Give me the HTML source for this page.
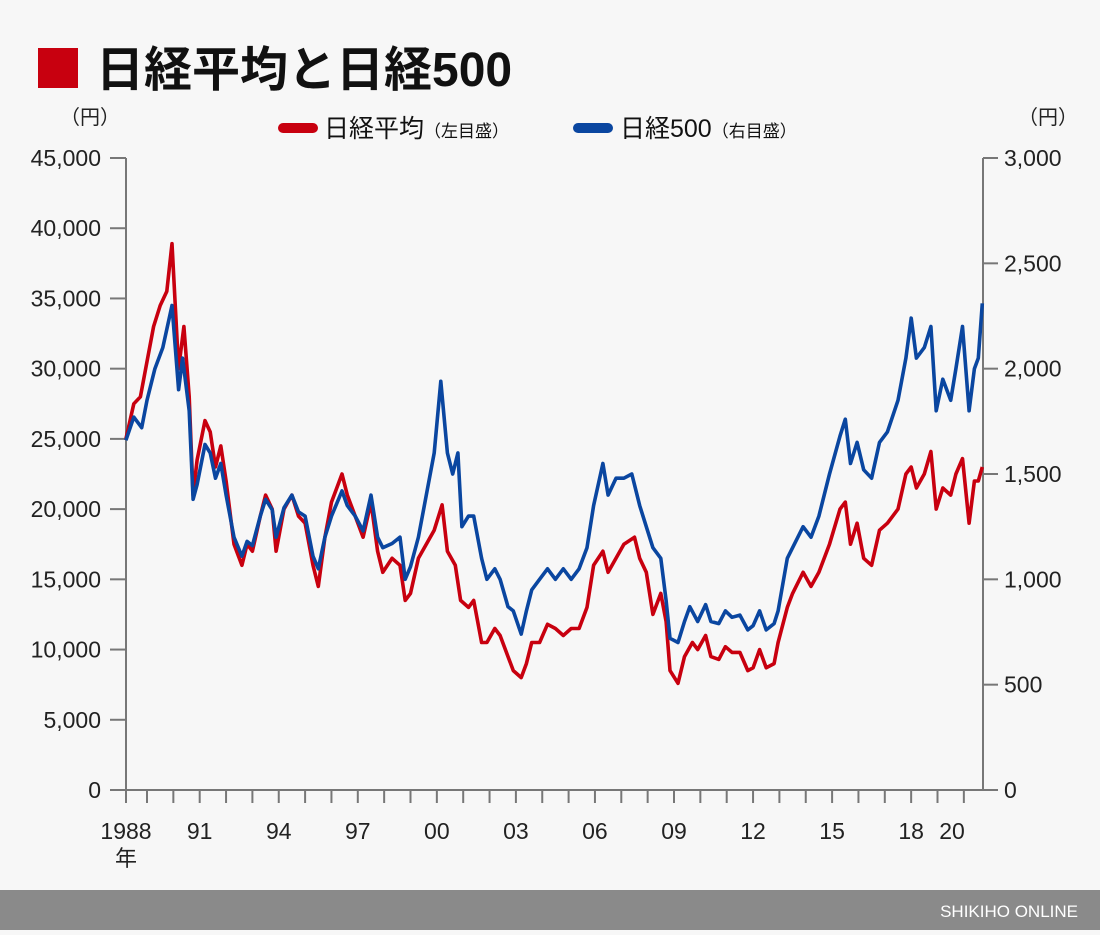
<!DOCTYPE html>
<html><head><meta charset="utf-8"><style>
body{margin:0;background:#f7f7f7;font-family:"Liberation Sans","Noto Sans CJK JP",sans-serif;}
#wrap{position:relative;width:1100px;height:935px;background:#f7f7f7;overflow:hidden}
</style></head><body>
<div id="wrap">
<svg id="svg" width="1100" height="935" style="position:absolute;left:0;top:0">
<rect x="38" y="48" width="40" height="40" fill="#c8000f"/>
<text x="96" y="86" font-size="48" font-weight="bold" fill="#111" font-family="Liberation Sans,Noto Sans CJK JP,sans-serif">日経平均と日経500</text>
<text x="60" y="124" font-size="20" fill="#222" font-family="Liberation Sans,Noto Sans CJK JP,sans-serif">（円）</text>
<text x="1018" y="124" font-size="20" fill="#222" font-family="Liberation Sans,Noto Sans CJK JP,sans-serif">（円）</text>
<g>
<line x1="283" y1="128" x2="313" y2="128" stroke="#c8000f" stroke-width="10" stroke-linecap="round"/>
<text x="324" y="137" font-size="25" fill="#111" font-family="Liberation Sans,Noto Sans CJK JP,sans-serif">日経平均<tspan font-size="17">（左目盛）</tspan></text>
</g>
<g>
<line x1="578" y1="128" x2="608" y2="128" stroke="#0a46a0" stroke-width="10" stroke-linecap="round"/>
<text x="620" y="137" font-size="25" fill="#111" font-family="Liberation Sans,Noto Sans CJK JP,sans-serif">日経500<tspan font-size="17">（右目盛）</tspan></text>
</g>
<g id="axes"></g>
<g id="series"></g>
<rect x="0" y="890" width="1100" height="40" fill="#8a8a8a"/>
<text x="1078" y="917" text-anchor="end" font-size="17" fill="#fff" font-family="Liberation Sans,sans-serif">SHIKIHO ONLINE</text>
</svg>
</div>
<script>
const nikkeiT=[1988.2,1988.5,1988.75,1989.0,1989.25,1989.5,1989.75,1989.95,1990.2,1990.4,1990.6,1990.75,1990.9,1991.2,1991.4,1991.6,1991.8,1992.0,1992.3,1992.6,1992.8,1993.0,1993.3,1993.5,1993.75,1993.9,1994.2,1994.5,1994.75,1995.0,1995.3,1995.5,1995.75,1996.0,1996.4,1996.6,1996.9,1997.2,1997.5,1997.75,1997.95,1998.3,1998.6,1998.8,1999.0,1999.3,1999.6,1999.9,2000.2,2000.4,2000.7,2000.9,2001.2,2001.4,2001.7,2001.9,2002.2,2002.4,2002.7,2002.9,2003.2,2003.4,2003.6,2003.9,2004.2,2004.5,2004.8,2005.1,2005.4,2005.7,2005.95,2006.3,2006.5,2006.8,2007.1,2007.5,2007.7,2007.95,2008.2,2008.5,2008.7,2008.85,2009.15,2009.4,2009.7,2009.9,2010.2,2010.4,2010.7,2010.95,2011.2,2011.5,2011.8,2012.0,2012.25,2012.5,2012.8,2012.95,2013.3,2013.5,2013.9,2014.2,2014.5,2014.9,2015.3,2015.5,2015.7,2015.95,2016.2,2016.5,2016.8,2017.1,2017.5,2017.8,2018.0,2018.2,2018.5,2018.75,2018.95,2019.2,2019.5,2019.7,2019.95,2020.2,2020.4,2020.55,2020.7];
const nikkeiV=[25000,27500,28000,30500,33000,34500,35500,38900,30000,33000,28000,21000,23500,26300,25500,23000,24500,22000,17500,16000,17500,17000,19500,21000,20000,17000,20000,21000,19500,19000,16000,14500,18000,20500,22500,21000,19500,18000,20500,17000,15500,16500,16000,13500,14000,16500,17500,18500,20300,17000,16000,13500,13000,13500,10500,10500,11500,11000,9500,8500,8000,9000,10500,10500,11800,11500,11000,11500,11500,13000,16000,17000,15500,16500,17500,18000,16500,15500,12500,14000,12000,8500,7600,9500,10500,10000,11000,9500,9300,10200,9800,9800,8500,8700,10000,8700,9000,10500,13000,14000,15500,14500,15500,17500,20000,20500,17500,19000,16500,16000,18500,19000,20000,22500,23000,21500,22500,24100,20000,21500,21000,22500,23600,19000,22000,22000,23000];
const n500T=[1988.2,1988.5,1988.8,1989.0,1989.3,1989.6,1989.95,1990.2,1990.35,1990.6,1990.75,1990.9,1991.2,1991.4,1991.6,1991.8,1992.0,1992.3,1992.6,1992.8,1993.0,1993.3,1993.5,1993.75,1993.9,1994.2,1994.5,1994.75,1995.0,1995.3,1995.5,1995.75,1996.0,1996.4,1996.6,1996.9,1997.2,1997.5,1997.75,1997.95,1998.3,1998.6,1998.8,1999.0,1999.3,1999.6,1999.9,2000.15,2000.4,2000.6,2000.8,2000.95,2001.2,2001.4,2001.7,2001.9,2002.2,2002.4,2002.7,2002.9,2003.2,2003.4,2003.6,2003.9,2004.2,2004.5,2004.8,2005.1,2005.4,2005.7,2005.95,2006.3,2006.5,2006.8,2007.1,2007.4,2007.7,2007.95,2008.2,2008.5,2008.7,2008.85,2009.15,2009.4,2009.6,2009.9,2010.2,2010.4,2010.7,2010.95,2011.2,2011.5,2011.8,2012.0,2012.25,2012.5,2012.8,2012.95,2013.3,2013.5,2013.9,2014.2,2014.5,2014.9,2015.3,2015.5,2015.7,2015.95,2016.2,2016.5,2016.8,2017.1,2017.5,2017.8,2018.0,2018.2,2018.5,2018.75,2018.95,2019.2,2019.5,2019.7,2019.95,2020.2,2020.4,2020.55,2020.7];
const n500V=[1660,1770,1720,1850,2000,2100,2300,1900,2050,1800,1380,1450,1640,1600,1480,1550,1400,1200,1110,1180,1160,1300,1380,1330,1200,1340,1400,1320,1300,1110,1050,1200,1300,1420,1350,1300,1230,1400,1200,1150,1170,1200,1000,1060,1200,1400,1600,1940,1600,1500,1600,1250,1300,1300,1100,1000,1050,1000,870,850,740,850,950,1000,1050,1000,1050,1000,1050,1150,1350,1550,1400,1480,1480,1500,1350,1250,1150,1100,900,720,700,800,870,800,880,800,790,850,820,830,760,780,850,760,790,850,1100,1150,1250,1200,1300,1500,1680,1760,1550,1650,1520,1480,1650,1700,1850,2050,2240,2050,2100,2200,1800,1950,1850,2000,2200,1800,2000,2050,2310];
const leftTicks=[0,5000,10000,15000,20000,25000,30000,35000,40000,45000];
const rightTicks=[0,500,1000,1500,2000,2500,3000];
const yearLabels=["1988","91","94","97","00","03","06","09","12","15","18","20"];
const yearLabelYears=[1988.2,1991,1994,1997,2000,2003,2006,2009,2012,2015,2018,2019.55];

const NS="http://www.w3.org/2000/svg";
const X0=126,X1=983,Y0=790,Y1=158;
const xs=t=>147+(t-1989)*26.35;
const yl=v=>Y0-(v/45000)*(Y0-Y1);
const yr=v=>Y0-(v/3000)*(Y0-Y1);
function mk(tag,attrs,parent){const e=document.createElementNS(NS,tag);for(const k in attrs)e.setAttribute(k,attrs[k]);parent.appendChild(e);return e;}
const ax=document.getElementById('axes');
const FONT="Liberation Sans,Noto Sans CJK JP,sans-serif";
let e;
e=mk('line',{x1:X0,y1:Y1,x2:X0,y2:Y0+13,stroke:'#777','stroke-width':2},ax);


e=mk('line',{x1:X1,y1:Y1,x2:X1,y2:Y0,stroke:'#777','stroke-width':2},ax);


e=mk('line',{x1:X0,y1:Y0,x2:X1,y2:Y0,stroke:'#777','stroke-width':2},ax);


leftTicks.forEach(v=>{const y=yl(v);
 mk('line',{x1:110,y1:y,x2:X0,y2:y,stroke:'#777','stroke-width':2},ax);
 const t=mk('text',{x:101,y:y+8,'text-anchor':'end','font-size':23,fill:'#222','font-family':FONT},ax);
 t.textContent=v.toLocaleString('en-US');
 
 });
rightTicks.forEach(v=>{const y=yr(v);
 mk('line',{x1:X1,y1:y,x2:998,y2:y,stroke:'#777','stroke-width':2},ax);
 const t=mk('text',{x:1004,y:y+8,'font-size':23,fill:'#222','font-family':FONT},ax);
 t.textContent=v.toLocaleString('en-US');
 
 });
for(let yr_=1989;yr_<=2020;yr_++){const x=xs(yr_);mk('line',{x1:x,y1:Y0,x2:x,y2:Y0+13,stroke:'#777','stroke-width':2},ax);}
yearLabels.forEach((l,i)=>{const x=yearLabelYears[i]<1989?X0:xs(yearLabelYears[i]);
 const t=mk('text',{x:x,y:839,'text-anchor':'middle','font-size':23,fill:'#222','font-family':FONT},ax);
 t.textContent=l;
 
 });
e=mk('text',{x:X0,y:866,'text-anchor':'middle','font-size':22,fill:'#222','font-family':FONT},ax);
e.textContent='年';


const sg=document.getElementById('series');
function line(T,V,fy,color,name){const d=T.map((t,i)=>(i?'L':'M')+xs(t).toFixed(1)+','+fy(V[i]).toFixed(1)).join('');
 const p=mk('path',{d:d,fill:'none',stroke:color,'stroke-width':3.6,'stroke-linejoin':'round'},sg);
 
 }
line(nikkeiT,nikkeiV,yl,'#c8000f','nikkei-average-line');
line(n500T,n500V,yr,'#0a46a0','nikkei500-line');
</script>
</body></html>
